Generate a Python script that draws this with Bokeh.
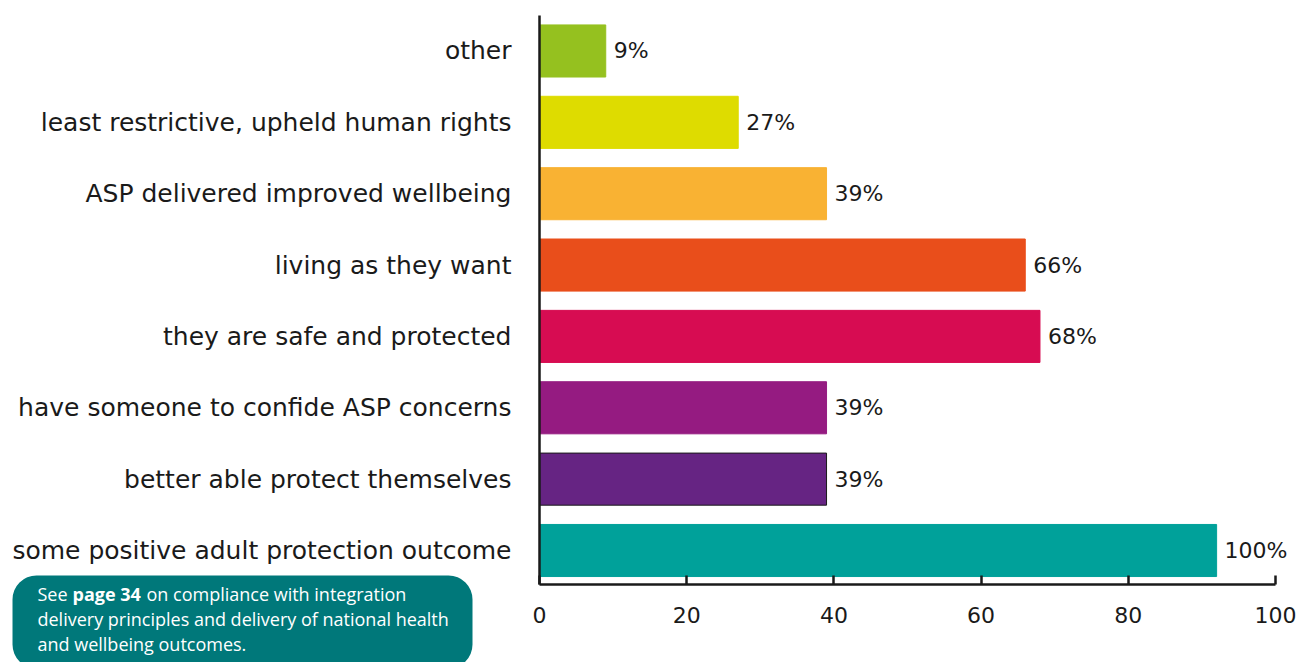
from bokeh.plotting import figure
from bokeh.models import (ColumnDataSource, Range1d, LabelSet, Label,
                          BoxAnnotation, FixedTicker, LinearAxis)
from bokeh.core.properties import value
from bokeh.embed import file_html
from bokeh.resources import INLINE

categories = [
    "some positive adult protection outcome",
    "better able protect themselves",
    "have someone to confide ASP concerns",
    "they are safe and protected",
    "living as they want",
    "ASP delivered improved wellbeing",
    "least restrictive, upheld human rights",
    "other",
]
values = [92, 39, 39, 68, 66, 39, 27, 9]
value_labels = ["100%", "39%", "39%", "68%", "66%", "39%", "27%", "9%"]
colors = ["#00A19A", "#662483", "#951B81", "#D70C52", "#E94E1B", "#F9B233", "#DEDC00", "#95C11F"]
outlines = ["#00A19A", "#1a1a1a", "#951B81", "#D70C52", "#E94E1B", "#F9B233", "#DEDC00", "#95C11F"]
x_ticks = [0, 20, 40, 60, 80, 100]
note_lines = [
    ["See", "page 34", "on compliance with integration"],
    ["delivery principles and delivery of national health"],
    ["and wellbeing outcomes."],
]

LABEL_FONT = "DejaVu Sans"
NOTE_FONT = "Open Sans"
W, H = 1296, 662

# pixel layout of the frame (frame covers whole canvas; axes use fixed locations)
X0_PX, X100_PX = 539.0, 1275.0
sx = (X100_PX - X0_PX) / 100.0
Y_BOTTOM_CAT_PX, CAT_STEP_PX = 550.0, 71.36
x_start = -X0_PX / sx
x_end = 100 + (W - X100_PX) / sx
y_top = Y_BOTTOM_CAT_PX / CAT_STEP_PX
y_bot = (Y_BOTTOM_CAT_PX - H) / CAT_STEP_PX


def px_to_y(py):
    return (Y_BOTTOM_CAT_PX - py) / CAT_STEP_PX


def px_to_x(px):
    return (px - X0_PX) / sx


idx = list(range(len(categories)))
src = ColumnDataSource(dict(pos=idx, cat=categories, val=values, lab=value_labels,
                            color=colors, outline=outlines))

p = figure(width=W, height=H, output_backend="svg", toolbar_location=None,
           x_range=Range1d(x_start, x_end), y_range=Range1d(y_bot, y_top),
           min_border=0, x_axis_location=None, y_axis_location=None)
p.outline_line_color = None
p.grid.grid_line_color = None

p.hbar(y="pos", right="val", left=0, height=0.73, fill_color="color",
       line_color="outline", line_width=1, source=src)

p.add_layout(LabelSet(x="val", y="pos", text="lab", source=src, x_offset=8,
                      text_baseline="middle", text_font=value(LABEL_FONT),
                      text_font_size="22px", text_color="#1a1a1a"))

axis_y_loc = px_to_y(584)

xa = LinearAxis(fixed_location=axis_y_loc, bounds=(0, 100))
xa.ticker = FixedTicker(ticks=x_ticks)
xa.axis_line_width = 2.5
xa.axis_line_color = "#1a1a1a"
xa.major_tick_in = 9
xa.major_tick_out = 0
xa.major_tick_line_width = 2.5
xa.major_tick_line_color = "#1a1a1a"
xa.minor_tick_line_color = None
xa.major_label_text_font = LABEL_FONT
xa.major_label_text_font_size = "22px"
xa.major_label_text_color = "#1a1a1a"
xa.major_label_standoff = 22
p.add_layout(xa, "below")

ya = LinearAxis(fixed_location=0, bounds=(axis_y_loc, px_to_y(15)))
ya.ticker = FixedTicker(ticks=idx)
ya.major_label_overrides = {i: c for i, c in zip(idx, categories)}
ya.axis_line_width = 2.5
ya.axis_line_color = "#1a1a1a"
ya.major_tick_line_color = None
ya.minor_tick_line_color = None
ya.major_label_text_font = LABEL_FONT
ya.major_label_text_font_size = "25px"
ya.major_label_text_color = "#1a1a1a"
ya.major_label_standoff = 22
p.add_layout(ya, "left")

# note box
p.add_layout(BoxAnnotation(left=px_to_x(12), right=px_to_x(472),
                           top=px_to_y(575), bottom=px_to_y(668),
                           fill_color="#00787A", fill_alpha=1.0, line_color=None,
                           border_radius=24))

note_pos = [
    [(37, "normal"), (72, "bold"), (146, "normal")],
    [(37, "normal")],
    [(37, "normal")],
]
note_y = [593, 618, 643]
for parts, poss, py in zip(note_lines, note_pos, note_y):
    for txt, (px, style) in zip(parts, poss):
        p.add_layout(Label(x=px_to_x(px), y=px_to_y(py), text=txt,
                           text_font=NOTE_FONT, text_font_size="18px",
                           text_font_style=style, text_color="white",
                           text_baseline="middle"))

open("out.html", "w").write(file_html(p, INLINE))
